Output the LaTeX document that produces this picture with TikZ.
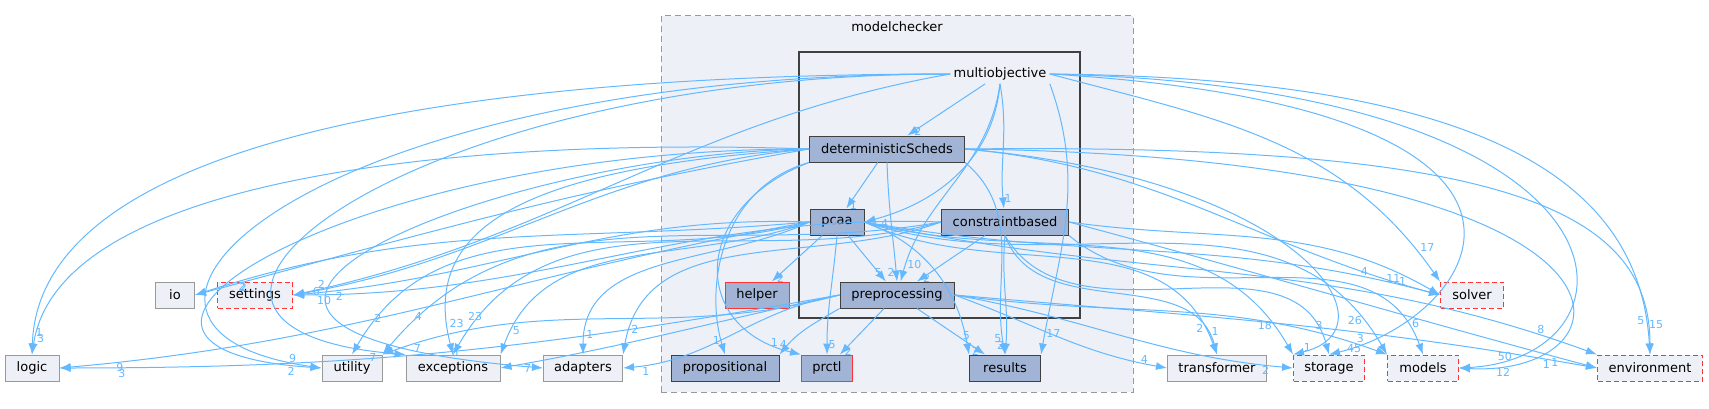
\documentclass[tikz,border=0pt]{standalone}
\usepackage{fontspec}
\setmainfont{DejaVu Sans}
\usetikzlibrary{arrows.meta}
\definecolor{edgeblue}{HTML}{63B8FF}
\definecolor{dirfill}{HTML}{EDF0F7}
\definecolor{subfill}{HTML}{A2B4D6}
\definecolor{dirline}{HTML}{999999}
\definecolor{darkline}{HTML}{404040}
\definecolor{cutred}{HTML}{FF3333}
\tikzset{
  box/.style={rectangle, minimum height=26pt, inner sep=2pt, line width=1pt,
    font=\fontsize{13}{15}\selectfont},
  outdir/.style={box, draw=dirline, fill=dirfill},
  cutdir/.style={box, draw=cutred, dash pattern=on 5pt off 3pt, fill=dirfill},
  subdir/.style={box, draw=darkline, fill=subfill},
  cutsub/.style={box, draw=cutred, fill=subfill},
  dep/.style={draw=edgeblue, line width=1pt, -{Latex[length=11pt,width=8pt]}},
  num/.style={text=edgeblue, font=\fontsize{11}{12}\selectfont, inner sep=1pt, pos=0.93},
}
\begin{document}
\begin{tikzpicture}[x=1pt, y=1pt]
    \useasboundingbox (0,0) rectangle (1709,408);
    % clusters
    \draw [draw=dirline, fill=dirfill, dash pattern=on 6pt off 4pt, line width=1pt]
        (661,16) rectangle (1133,392);
    \node [font=\fontsize{13}{15}\selectfont] (mc) at (897,381) {modelchecker};
    \draw [draw=darkline, fill=dirfill, line width=2pt] (799,90) rectangle (1080,356);
    \node [font=\fontsize{13}{15}\selectfont] (mo) at (1000,334) {multiobjective};

    % inside modelchecker
    \node [subdir, minimum width=155pt] (detS) at (887,259) {deterministicScheds};
    \node [subdir, minimum width=54pt] (pcaa) at (837,186) {pcaa};
    \node [subdir, minimum width=127pt] (cb) at (1005,186) {constraintbased};
    \node [subdir, minimum width=114pt] (prep) at (897,113) {preprocessing};
    \node [cutsub, minimum width=64pt] (helper) at (757,113) {helper};
    \node [subdir, minimum width=108pt] (prop) at (725,40) {propositional};
    \node [cutsub, minimum width=51pt] (prctl) at (827,40) {prctl};
    \node [subdir, minimum width=71pt] (results) at (1005,40) {results};

    % outside
    \node [outdir, minimum width=39pt] (io) at (175,113) {io};
    \node [cutdir, minimum width=75pt] (settings) at (255,113) {settings};
    \node [outdir, minimum width=54pt] (logic) at (32,40) {logic};
    \node [outdir, minimum width=60pt] (utility) at (352,40) {utility};
    \node [outdir, minimum width=94pt] (exceptions) at (453,40) {exceptions};
    \node [outdir, minimum width=79pt] (adapters) at (583,40) {adapters};
    \node [outdir, minimum width=99pt] (transformer) at (1217,40) {transformer};
    \node [cutdir, minimum width=71pt] (storage) at (1329,40) {storage};
    \node [cutdir, minimum width=71pt] (models) at (1423,40) {models};
    \node [cutdir, minimum width=63pt] (solver) at (1472,113) {solver};
    \node [cutdir, minimum width=105pt] (environment) at (1650,40) {environment};

    % multiobjective
    \draw [dep] (mo) to node [num, right] {2} (detS);
    \draw [dep] (mo.south) to [out=265, in=15] node [num, below right] {4} (pcaa.east);
    \draw [dep] (mo.south) to [out=280, in=95] node [num, right] {1} (cb);
    \draw [dep] (mo.south) to [out=262, in=75] node [num, right] {10} (prep);
    \draw [dep] (mo.south east) to [out=-70, in=80] node [num, right] {17} (results.north east);
    \draw [dep] (mo.west) .. controls (600,334) and (40,300) .. node [num, right, pos=.97] {1} (logic.north);
    \draw [dep] (mo.west) .. controls (300,334) and (40,80) .. node [num, above left, pos=.97] {9} (utility.west);
    \draw [dep] (mo.west) .. controls (400,334) and (80,80) .. node [num, below left, pos=.97] {7} (exceptions.north west);
    \draw [dep] (mo.west) to [out=190, in=12] node [num, above right, pos=.97] {2} (settings.east);
    \draw [dep] (mo.east) to [out=-15, in=125] node [num, above right] {17} (solver.north west);
    \draw [dep] (mo.east) .. controls (1500,330) and (1640,220) .. node [num, left] {5} (environment.north);
    \draw [dep] (mo.east) .. controls (1660,320) and (1650,50) .. node [num, above right] {50} (models.east);
    \draw [dep] (mo.east) .. controls (1620,300) and (1480,90) .. node [num, above] {3} (storage.north);

    % deterministicScheds
    \draw [dep] (detS) to node [num, right] {1} (pcaa);
    \draw [dep] (detS.south) to [out=-88, in=95] node [num, left] {2} (prep.north);
    \draw [dep] (detS.south east) to [out=-40, in=100] node [num, left] {5} (results.north);
    \draw [dep] (detS.south west) .. controls (720,220) and (705,120) .. node [num, left] {1} (prop.north);
    \draw [dep] (detS.south west) .. controls (690,200) and (690,80) .. node [num, above left] {1} (prctl.north west);
    \draw [dep] (detS.west) to [out=185, in=10] node [num, right, pos=.97] {6} (settings.east);
    \draw [dep] (detS.west) to [out=190, in=15] node [num, below] {2} (io.east);
    \draw [dep] (detS.west) .. controls (500,270) and (60,240) .. node [num, right, pos=.97] {3} (logic.north);
    \draw [dep] (detS.west) .. controls (350,260) and (20,60) .. node [num, below left, pos=.97] {2} (utility.west);
    \draw [dep] (detS.west) .. controls (520,240) and (420,180) .. node [num, above right] {23} (exceptions.north);
    \draw [dep] (detS.west) .. controls (500,255) and (60,80) .. node [num, above] {6} (adapters.west);
    \draw [dep] (detS.east) to [out=-5, in=165] node [num, above left] {11} (solver.west);
    \draw [dep] (detS.east) .. controls (1500,265) and (1650,200) .. node [num, right] {15} (environment.north);
    \draw [dep] (detS.east) .. controls (1680,250) and (1640,30) .. node [num, below right] {12} (models.east);
    \draw [dep] (detS.east) .. controls (1300,230) and (1400,80) .. node [num, left] {1} (storage.north west);

    % pcaa
    \draw [dep] (pcaa) to node [num, right] {2} (helper);
    \draw [dep] (pcaa) to node [num, above left] {5} (prep);
    \draw [dep] (pcaa.south) to [out=-95, in=90] node [num, right] {5} (prctl.north);
    \draw [dep] (pcaa.east) to [out=-20, in=100] node [num, above] {5} (results.north west);
    \draw [dep] (pcaa.west) to [out=178, in=5] node [num, below right] {2} (settings.east);
    \draw [dep] (pcaa.west) to [out=185, in=18] node [num, below] {2} (io.east);
    \draw [dep] (pcaa.west) to [out=190, in=5] node [num, below] {9} (logic.east);
    \draw [dep] (pcaa.west) to [out=195, in=60] node [num, above right] {2} (utility.north);
    \draw [dep] (pcaa.west) to [out=200, in=70] node [num, right] {5} (exceptions.north east);
    \draw [dep] (pcaa.west) to [out=205, in=90] node [num, right] {1} (adapters.north);
    \draw [dep] (pcaa.east) to [out=-10, in=165] node [num, above, pos=.88] {4} (solver.west);
    \draw [dep] (pcaa.east) to [out=-15, in=120] node [num, left] {18} (storage.north west);
    \draw [dep] (pcaa.east) to [out=-18, in=120] node [num, left] {26} (models.north west);
    \draw [dep] (pcaa.east) to [out=-12, in=160] node [num, above] {8} (environment.north west);
    \draw [dep] (pcaa.east) to [out=-25, in=110] node [num, left] {2} (transformer.north);

    % constraintbased
    \draw [dep] (cb) to node [num, right] {2} (prep);
    \draw [dep] (cb.south) to [out=-95, in=85] node [num, left] {2} (results.north);
    \draw [dep] (cb.west) to [out=178, in=0] node [num, below right, pos=.97] {10} (settings.east);
    \draw [dep] (cb.west) to [out=190, in=50] node [num, above right] {4} (utility.north east);
    \draw [dep] (cb.west) to [out=195, in=60] node [num, above] {23} (exceptions.north);
    \draw [dep] (cb.west) to [out=200, in=80] node [num, right] {2} (adapters.north east);
    \draw [dep] (cb.east) to [out=-8, in=150] node [num, below, pos=.9] {1} (solver.west);
    \draw [dep] (cb.south) to [out=-60, in=105] node [num, above] {3} (storage.north);
    \draw [dep] (cb.south east) to [out=-40, in=110] node [num, above right] {6} (models.north);
    \draw [dep] (cb.east) to [out=-15, in=165] node [num, below] {1} (environment.west);
    \draw [dep] (cb.south) to [out=-70, in=105] node [num, above right] {1} (transformer.north);

    % preprocessing
    \draw [dep] (prep) to node [num, left] {2} (results);
    \draw [dep] (prep) to node [num, right] {2} (prctl);
    \draw [dep] (prep.south west) to [out=210, in=50] node [num, above] {4} (prop.north east);
    \draw [dep] (prep.west) to [out=190, in=5] node [num, below right] {1} (adapters.east);
    \draw [dep] (prep.west) to [out=190, in=0] node [num, below] {3} (logic.east);
    \draw [dep] (prep.west) to [out=195, in=20] node [num, below] {7} (utility.north east);
    \draw [dep] (prep.west) to [out=192, in=10] node [num, below] {7} (exceptions.east);
    \draw [dep] (prep.east) to [out=-10, in=175] node [num, below] {2} (storage.west);
    \draw [dep] (prep.east) to [out=-8, in=160] node [num, below] {45} (models.north west);
    \draw [dep] (prep.east) to [out=-5, in=170] node [num, below] {1} (environment.west);
    \draw [dep] (prep.east) to [out=-20, in=170] node [num, above left] {4} (transformer.west);
\end{tikzpicture}
\end{document}
